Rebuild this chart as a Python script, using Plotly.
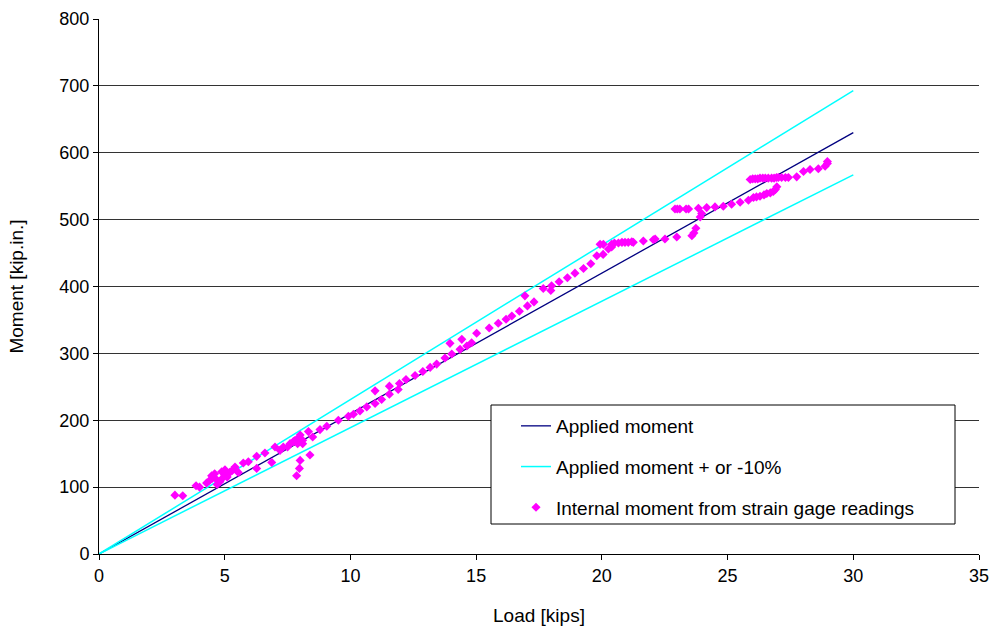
import plotly.graph_objects as go

# Reference lines (kips -> kip.in.)
line_load = [0, 30]
applied_moment = [0, 630]
applied_upper = [0, 693]   # +10 %
applied_lower = [0, 567]   # -10 %

# Internal moment computed from strain gage readings
load_kips = [
    3.02, 3.33, 3.86, 4.00, 4.28, 4.40, 4.48, 4.50, 4.60, 4.68, 4.70, 4.81, 4.88, 4.90,
    5.00, 5.01, 5.10, 5.20, 5.30, 5.41, 5.54, 5.74, 5.94, 6.27, 6.27, 6.60, 6.87,
    7.00, 7.20, 7.33, 7.50, 7.60, 7.73, 7.80, 7.86, 7.90, 7.93, 7.97, 8.00, 8.00,
    8.10, 8.10, 8.33, 8.39, 8.50, 8.79, 9.06, 9.52,
    9.92, 10.12, 10.38, 10.65, 10.98, 10.98, 11.24, 11.55, 11.55, 11.90, 11.95,
    12.21, 12.57, 12.88, 13.17, 13.43, 13.76, 13.96, 14.03, 14.36, 14.43, 14.63,
    14.82, 15.02, 15.52, 15.88, 16.19, 16.42, 16.72, 16.94, 17.04, 17.30, 17.67,
    17.97, 18.00, 18.30, 18.63, 18.93, 19.27, 19.56, 19.80, 19.93, 20.05, 20.06,
    20.26, 20.39, 20.39, 20.50, 20.66, 20.80, 20.92, 21.05, 21.19, 21.25, 21.65,
    22.05, 22.12, 22.51, 22.98, 23.58, 23.66, 23.74,
    22.91, 23.00, 23.10, 23.35, 23.45, 23.84, 23.91, 23.97, 24.17, 24.50, 24.83,
    25.16, 25.50, 25.83, 26.03, 26.15, 26.29, 26.45, 26.56, 26.70, 26.82, 26.90, 26.96,
    25.90, 26.00, 26.10, 26.20, 26.29, 26.40, 26.50, 26.62, 26.75, 26.85, 26.95,
    27.02, 27.15, 27.30, 27.42, 27.75, 28.02, 28.28, 28.61, 28.88, 28.97, 28.97,
]
moment_kipin = [
    88, 87, 102, 100, 106, 110, 117, 113, 120, 111, 104, 108, 123, 113,
    118, 126, 115, 122, 125, 130, 122, 136, 138, 146, 128, 151, 137,
    160, 155, 160, 160, 165, 168, 170, 117, 165, 173, 128, 178, 140,
    170, 165, 183, 148, 175, 186, 191, 200,
    206, 209, 214, 220, 244, 225, 231, 239, 251, 246, 255,
    261, 267, 273, 279, 284, 293, 315, 299, 306, 321, 311,
    316, 330, 338, 345, 351, 356, 363, 386, 371, 377, 397,
    394, 401, 407, 413, 420, 427, 434, 446, 463, 448, 463,
    456, 459, 463, 465, 465, 466, 466, 466, 467, 466, 468,
    470, 471, 471, 474, 476, 480, 487,
    516, 516, 516, 516, 516, 517, 504, 509, 518, 519, 520,
    523, 526, 529, 533, 534, 535, 537, 539, 540, 542, 545, 549,
    560, 561, 561, 561, 562, 562, 562, 562, 562, 562, 563,
    563, 563, 563, 563, 564, 572, 575, 576, 580, 584, 587,
]

font_family = "Arial, Liberation Sans, sans-serif"

fig = go.Figure()

fig.add_trace(go.Scatter(
    x=line_load, y=applied_moment, mode="lines",
    line=dict(color="#000080", width=1.3),
    name="Applied moment", legendgroup="a",
))
fig.add_trace(go.Scatter(
    x=line_load, y=applied_upper, mode="lines",
    line=dict(color="#00FFFF", width=1.5),
    name="Applied moment + or -10%", legendgroup="b",
))
fig.add_trace(go.Scatter(
    x=line_load, y=applied_lower, mode="lines",
    line=dict(color="#00FFFF", width=1.5),
    name="Applied moment + or -10%", legendgroup="b", showlegend=False,
))
fig.add_trace(go.Scatter(
    x=load_kips, y=moment_kipin, mode="markers",
    marker=dict(symbol="diamond", size=7, color="#FF00FF", line=dict(width=0)),
    name="Internal moment from strain gage readings", legendgroup="c",
))

# Legend frame
fig.add_shape(
    type="rect", xref="paper", yref="paper",
    x0=(491 - 99) / 880, x1=(955 - 99) / 880,
    y0=(554 - 524) / 535, y1=(554 - 405) / 535,
    line=dict(color="black", width=1), fillcolor="white", layer="above",
)

fig.update_layout(
    width=993, height=628,
    margin=dict(l=99, r=14, t=19, b=74),
    paper_bgcolor="white", plot_bgcolor="white",
    font=dict(family=font_family, size=18, color="black"),
    showlegend=True,
    legend=dict(
        x=(516 - 99) / 880, y=(554 - 407) / 535,
        xanchor="left", yanchor="top",
        bgcolor="rgba(0,0,0,0)", borderwidth=0,
        font=dict(family=font_family, size=19, color="black"),
        traceorder="grouped", tracegroupgap=13,
        itemwidth=30,
    ),
    xaxis=dict(
        range=[0, 35], tickmode="array", tickvals=list(range(0, 36, 5)),
        showgrid=False, zeroline=False, automargin=False,
        showline=True, linecolor="black", linewidth=1,
        ticks="outside", ticklen=5, tickcolor="black",
        title=dict(text="Load [kips]", font=dict(size=19), standoff=24),
        tickfont=dict(size=18),
    ),
    yaxis=dict(
        range=[0, 800], tickmode="array", tickvals=list(range(0, 801, 100)),
        showgrid=True, gridcolor="#333333", gridwidth=1,
        zeroline=False, automargin=False,
        showline=True, linecolor="black", linewidth=1,
        ticks="outside", ticklen=5, tickcolor="black",
        title=dict(text="Moment [kip.in.]", font=dict(size=19), standoff=30),
        tickfont=dict(size=18),
    ),
)

fig.write_html("out.html")
